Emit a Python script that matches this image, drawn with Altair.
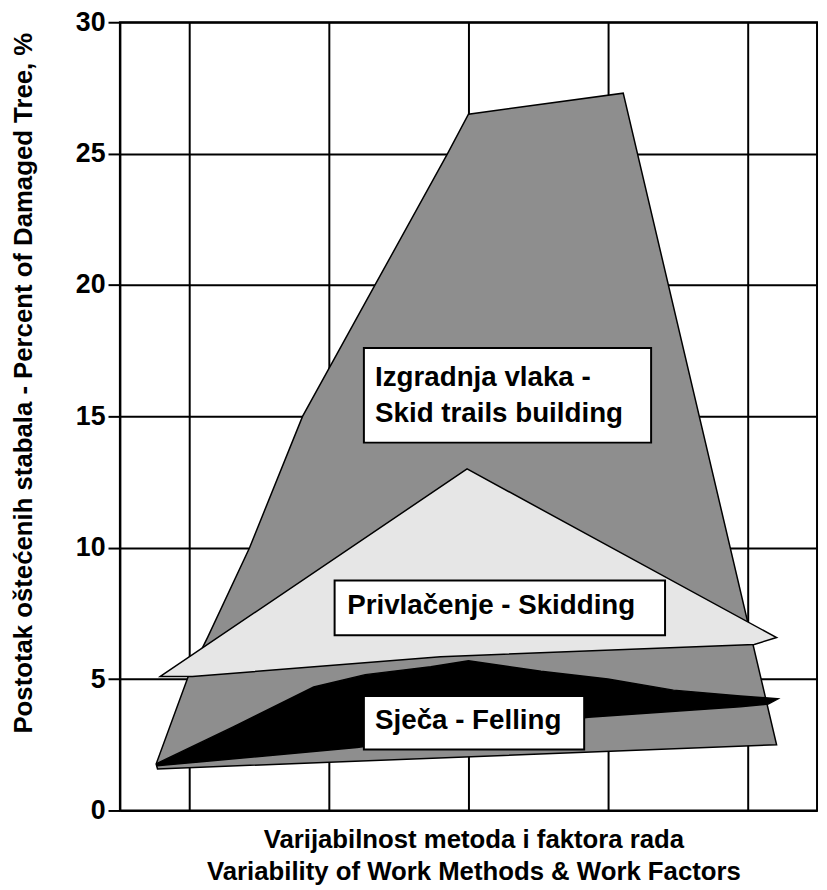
import altair as alt
import pandas as pd

# --- polygon vertices (x: relative position on variability axis 0..5, y: percent) ---
skid_trails_x = [0.26, 0.49, 0.63, 0.93, 1.31, 1.83, 2.35, 2.50, 3.61, 4.71, 0.27]
skid_trails_y = [1.77, 5.10, 6.60, 10.0, 15.0, 20.0, 25.0, 26.5, 27.3, 2.50, 1.58]

skidding_x = [0.29, 2.49, 4.71, 4.55, 2.30, 0.52]
skidding_y = [5.10, 13.0, 6.58, 6.32, 5.85, 5.10]

felling_x = [0.27, 0.82, 1.39, 1.76, 2.23, 2.50, 3.02, 3.50, 3.97, 4.45, 4.72,
             4.65, 4.45, 3.36, 1.70, 0.27]
felling_y = [1.80, 3.20, 4.70, 5.17, 5.47, 5.70, 5.30, 5.00, 4.58, 4.36, 4.25,
             4.05, 3.95, 3.55, 2.40, 1.70]

# --- label boxes and texts ---
box_x1 = [1.75, 1.54, 1.75]
box_x2 = [3.81, 3.91, 3.33]
box_y1 = [17.6, 8.75, 4.36]
box_y2 = [14.0, 6.67, 2.32]

label_text = ["Izgradnja vlaka -", "Skid trails building", "Privlačenje - Skidding", "Sječa - Felling"]
label_x = [1.83, 1.83, 1.63, 1.83]
label_y = [16.17, 14.77, 7.46, 3.11]

y_ticks = [0, 5, 10, 15, 20, 25, 30]
x_grid = [0.5, 1.5, 2.5, 3.5, 4.5]

FONT = "Liberation Sans"

def poly(xs, ys):
    return pd.DataFrame({"x": xs, "y": ys, "i": list(range(len(xs)))})

xscale = alt.Scale(domain=[0, 5], nice=False, zero=False)
yscale = alt.Scale(domain=[0, 30], nice=False)

x_axis = alt.Axis(values=x_grid, grid=True, gridColor="black", gridWidth=2, gridOpacity=1,
                  ticks=False, labels=False, domainColor="black", domainWidth=2,
                  title=["Varijabilnost metoda i faktora rada",
                         "Variability of Work Methods & Work Factors"],
                  titleFont=FONT, titleFontSize=26, titleFontWeight="bold", titleColor="black",
                  titleLineHeight=33, titleBaseline="alphabetic", titleAlign="center",
                  titleX=357, titleY=37)
y_axis = alt.Axis(values=y_ticks, grid=True, gridColor="black", gridWidth=2, gridOpacity=1,
                  tickColor="black", tickWidth=2, tickSize=12, labelPadding=3,
                  labelFont=FONT, labelFontSize=27, labelFontWeight="bold", labelColor="black",
                  domainColor="black", domainWidth=2,
                  title="Postotak oštećenih stabala - Percent of  Damaged Tree, %",
                  titleFont=FONT, titleFontSize=26, titleFontWeight="bold", titleColor="black",
                  titleAngle=270, titleBaseline="alphabetic", titleAlign="center",
                  titleX=-89, titleY=364)

base_grey = alt.Chart(poly(skid_trails_x, skid_trails_y)).mark_line(
    interpolate="linear-closed", fill="#8e8e8e", stroke="black", strokeWidth=1.5
).encode(
    x=alt.X("x:Q", scale=xscale, axis=x_axis),
    y=alt.Y("y:Q", scale=yscale, axis=y_axis),
    order="i:Q",
)

dotted = alt.Chart(poly(skidding_x, skidding_y)).mark_line(
    interpolate="linear-closed", fill="#e6e6e6", stroke="black", strokeWidth=1.5
).encode(x="x:Q", y="y:Q", order="i:Q")

black = alt.Chart(poly(felling_x, felling_y)).mark_line(
    interpolate="linear-closed", fill="black", stroke="black", strokeWidth=1.5
).encode(x="x:Q", y="y:Q", order="i:Q")

boxes = alt.Chart(pd.DataFrame({"x1": box_x1, "x2": box_x2, "y1": box_y1, "y2": box_y2})).mark_rect(
    fill="white", stroke="black", strokeWidth=2
).encode(x="x1:Q", x2="x2:Q", y="y1:Q", y2="y2:Q")

texts = alt.Chart(pd.DataFrame({"t": label_text, "x": label_x, "y": label_y})).mark_text(
    align="left", baseline="alphabetic", font=FONT, fontSize=28, fontWeight="bold", color="black"
).encode(x="x:Q", y="y:Q", text="t:N")

chart = alt.layer(base_grey, dotted, black, boxes, texts).properties(
    width=704, height=796,
    padding={"left": 113, "top": 10, "right": 2, "bottom": 82},
    autosize=alt.AutoSizeParams(type="none"),
    background="white",
).configure_view(stroke="black", strokeWidth=2)

chart.save("out.html", embed_options={"renderer": "svg", "actions": False})
